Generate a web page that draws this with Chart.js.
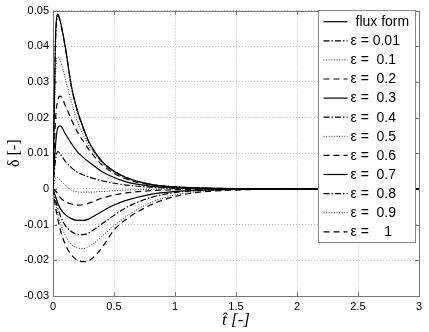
<!DOCTYPE html>
<html>
<head>
<meta charset="utf-8">
<script src="https://cdn.jsdelivr.net/npm/chart.js@4"></script>
<style>
  html, body { margin: 0; padding: 0; background: #fff; }
  canvas { display: block; }
</style>
</head>
<body>
<canvas id="grafico" width="429" height="332"></canvas>
<script>
// tempo adimensional (eixo x)
const tHat = [0, 0.02, 0.04, 0.06, 0.1, 0.15, 0.2, 0.25, 0.3, 0.4, 0.5, 0.6, 0.8, 1.0, 1.2, 1.5, 2, 3];

// valores de delta
const fluxForm = [0, 0.042, 0.049, 0.047, 0.040, 0.029, 0.022, 0.017, 0.0128, 0.0078, 0.005, 0.0032, 0.0013, 0.0006, 0.0003, 0.0001, 0, 0];
const eps001 = [0, 0.040, 0.0485, 0.0467, 0.0398, 0.0288, 0.0218, 0.0168, 0.0127, 0.0077, 0.005, 0.0032, 0.0013, 0.0006, 0.0003, 0.0001, 0, 0];
const eps01 = [0, 0.031, 0.037, 0.036, 0.031, 0.0245, 0.019, 0.015, 0.0118, 0.0074, 0.0047, 0.003, 0.0012, 0.0005, 0.0002, 0.0001, 0, 0];
const eps02 = [0, 0.019, 0.025, 0.026, 0.0235, 0.0195, 0.016, 0.0133, 0.0108, 0.0068, 0.0044, 0.0028, 0.0011, 0.0004, 0.0002, 0.0001, 0, 0];
const eps03 = [0, 0.012, 0.0172, 0.0177, 0.0155, 0.0128, 0.0104, 0.0088, 0.0074, 0.0049, 0.0032, 0.002, 0.0008, 0.0003, 0.0001, 0, 0, 0];
const eps04 = [0, 0.008, 0.0105, 0.0098, 0.0078, 0.006, 0.0047, 0.0039, 0.0033, 0.0023, 0.0016, 0.0011, 0.0005, 0.0002, 0.0001, 0, 0, 0];
const eps05 = [0, 0.003, 0.0032, 0.0025, 0.001, -0.0003, -0.0008, -0.0009, -0.0009, -0.0007, -0.0005, -0.0003, -0.0001, 0, 0, 0, 0, 0];
const eps06 = [0, -0.0005, -0.0015, -0.0024, -0.0035, -0.0042, -0.0045, -0.0044, -0.0039, -0.0026, -0.0017, -0.0011, -0.0005, -0.0002, -0.0001, 0, 0, 0];
const eps07 = [0, -0.002, -0.004, -0.0055, -0.0072, -0.0083, -0.0088, -0.0088, -0.0083, -0.0063, -0.0045, -0.0032, -0.0015, -0.0007, -0.0003, -0.0001, 0, 0];
const eps08 = [0, -0.003, -0.0055, -0.0075, -0.0102, -0.0119, -0.0127, -0.0128, -0.0122, -0.0098, -0.0074, -0.0052, -0.0024, -0.001, -0.0004, -0.0001, 0, 0];
const eps09 = [0, -0.004, -0.007, -0.0095, -0.013, -0.0155, -0.0165, -0.0167, -0.016, -0.0133, -0.0103, -0.0077, -0.0038, -0.0017, -0.0007, -0.0002, 0, 0];
const eps1 = [0, -0.005, -0.0085, -0.0115, -0.0155, -0.0185, -0.02, -0.0204, -0.02, -0.0165, -0.0115, -0.0085, -0.0045, -0.0021, -0.0009, -0.0003, 0, 0];

const labels = ['flux form', 'ε = 0.01', 'ε =  0.1', 'ε =  0.2', 'ε =  0.3', 'ε =  0.4',
  'ε =  0.5', 'ε =  0.6', 'ε =  0.7', 'ε =  0.8', 'ε =  0.9', 'ε =    1'];
const series = [fluxForm, eps001, eps01, eps02, eps03, eps04, eps05, eps06, eps07, eps08, eps09, eps1];

const xTickLabels = ['0', '0.5', '1', '1.5', '2', '2.5', '3'];
const yTickLabels = ['-0.03', '-0.02', '-0.01', '0', '0.01', '0.02', '0.03', '0.04', '0.05'];

// estilos de linha (estilo MATLAB)
const tracos = {
  solid: [],
  dashdot: [6, 2, 1.5, 2],
  dotted: [1, 1.6],
  dashed: [6, 4]
};
const estilos = ['solid', 'dashdot', 'dotted', 'dashed', 'solid', 'dashdot', 'dotted', 'dashed', 'solid', 'dashdot', 'dotted', 'dashed'];

const datasets = series.map((vals, i) => ({
  label: labels[i],
  data: vals.map((v, k) => ({ x: tHat[k], y: v })),
  borderColor: estilos[i] === 'dotted' ? '#333' : '#000',
  borderWidth: estilos[i] === 'dotted' ? 1 : 1.2,
  borderDash: tracos[estilos[i]],
  pointRadius: 0,
  fill: false,
  cubicInterpolationMode: 'monotone'
}));

// caixa do eixo, marcas internas e legenda dentro do grafico
const molduraPlugin = {
  id: 'moldura',
  beforeDatasetsDraw(chart) {
    const { ctx, chartArea: a, scales } = chart;
    ctx.save();
    ctx.strokeStyle = '#777';
    ctx.lineWidth = 1;
    ctx.setLineDash([]);
    ctx.beginPath();
    scales.x.ticks.forEach(t => {
      const px = Math.round(scales.x.getPixelForValue(t.value)) + 0.5;
      ctx.moveTo(px, a.bottom); ctx.lineTo(px, a.bottom - 4);
      ctx.moveTo(px, a.top); ctx.lineTo(px, a.top + 4);
    });
    scales.y.ticks.forEach(t => {
      const py = Math.round(scales.y.getPixelForValue(t.value)) + 0.5;
      ctx.moveTo(a.left, py); ctx.lineTo(a.left + 4, py);
      ctx.moveTo(a.right, py); ctx.lineTo(a.right - 4, py);
    });
    ctx.stroke();
    ctx.strokeRect(Math.round(a.left) + 0.5, Math.round(a.top) + 0.5,
      Math.round(a.right - a.left), Math.round(a.bottom - a.top));
    ctx.restore();
  },
  afterDraw(chart) {
    const ctx = chart.ctx;
    const bx = 318.5, by = 10.5, bw = 97, bh = 232;
    const passo = 19.1;
    ctx.save();
    ctx.fillStyle = '#fff';
    ctx.fillRect(bx, by, bw, bh);
    ctx.strokeStyle = '#888';
    ctx.lineWidth = 1;
    ctx.strokeRect(bx, by, bw, bh);
    chart.data.datasets.forEach((ds, i) => {
      const y = 21.7 + passo * i;
      ctx.strokeStyle = ds.borderColor;
      ctx.lineWidth = ds.borderWidth;
      ctx.setLineDash(ds.borderDash);
      ctx.beginPath();
      ctx.moveTo(bx + 5, y);
      ctx.lineTo(bx + 29, y);
      ctx.stroke();
      ctx.setLineDash([]);
      ctx.fillStyle = '#000';
      ctx.font = '14px "Liberation Sans", Arial, sans-serif';
      ctx.textBaseline = 'middle';
      ctx.textAlign = 'left';
      ctx.fillText(ds.label, i === 0 ? bx + 37 : bx + 32, y + 0.5);
    });
    ctx.restore();
  }
};

const ctx = document.getElementById('grafico').getContext('2d');

new Chart(ctx, {
  type: 'line',
  data: { datasets: datasets },
  options: {
    responsive: false,
    animation: false,
    layout: { padding: { top: 7, right: 10, left: 0, bottom: 0 } },
    plugins: {
      legend: { display: false },
      tooltip: { enabled: false }
    },
    scales: {
      x: {
        type: 'linear',
        min: 0,
        max: 3,
        afterBuildTicks: s => { s.ticks = xTickLabels.map(v => ({ value: parseFloat(v) })); },
        afterFit: s => { s.height = 36; },
        ticks: {
          callback: (v, i) => xTickLabels[i],
          color: '#000',
          padding: 4,
          maxRotation: 0,
          font: { family: '"Liberation Sans", Arial, sans-serif', size: 11 }
        },
        grid: { color: '#bdbdbd', borderDash: [1, 2], drawTicks: false },
        border: { display: false, dash: [1, 2] },
        title: {
          display: true,
          text: 't\u0302 [-]',
          color: '#000',
          padding: { top: 0, bottom: 1 },
          font: { family: '"Liberation Serif", "DejaVu Serif", serif', size: 17, style: 'italic' }
        }
      },
      y: {
        type: 'linear',
        min: -0.03,
        max: 0.05,
        afterBuildTicks: s => { s.ticks = yTickLabels.map(v => ({ value: parseFloat(v) })); },
        afterFit: s => { s.width = 53; },
        ticks: {
          callback: (v, i) => yTickLabels[i],
          color: '#000',
          padding: 4,
          font: { family: '"Liberation Sans", Arial, sans-serif', size: 11 }
        },
        grid: { color: '#bdbdbd', drawTicks: false },
        border: { display: false, dash: [1, 2] },
        title: {
          display: true,
          text: 'δ [-]',
          color: '#000',
          padding: { top: 5, bottom: 0 },
          font: { family: '"Liberation Serif", "DejaVu Serif", serif', size: 16 }
        }
      }
    }
  },
  plugins: [molduraPlugin]
});
</script>
</body>
</html>
